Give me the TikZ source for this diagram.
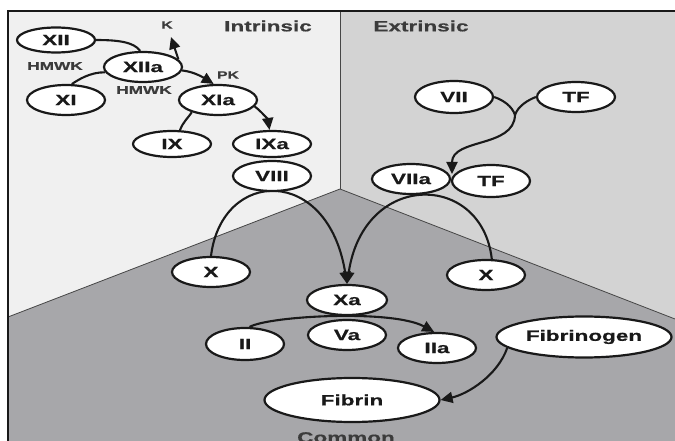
\documentclass[tikz,border=0pt]{standalone}
\usepackage{fontspec}
\setmainfont{Liberation Sans}[FakeStretch=1.5,BoldFeatures={FakeBold=0.6}]
\usetikzlibrary{arrows.meta,shapes.geometric}
\definecolor{wallin}{RGB}{240,240,240}
\definecolor{wallex}{RGB}{211,211,211}
\definecolor{floorc}{RGB}{167,167,170}
\definecolor{ink}{RGB}{25,25,25}
\definecolor{edgeline}{RGB}{70,70,70}
\pgfdeclarelayer{bg}
\pgfdeclarelayer{edges}
\pgfsetlayers{bg,edges,main}
\begin{document}
\begin{tikzpicture}[x=1pt,y=-1pt,
  factor/.style={ellipse,draw=ink,fill=white,line width=2.2pt,inner sep=0pt,
    minimum width=78pt,minimum height=30pt,
    font=\bfseries\fontsize{15}{15}\selectfont,text=ink},
  big/.style={factor,minimum width=175pt,minimum height=42pt},
  tag/.style={font=\bfseries\fontsize{11.5}{12}\selectfont,text=ink!85,inner sep=0pt},
  tiny/.style={tag,font=\bfseries\fontsize{10.5}{11}\selectfont},
  wall/.style={font=\bfseries\fontsize{15}{15}\selectfont,text=ink!85,inner sep=0pt},
  link/.style={draw=ink,line width=2.1pt},
  arr/.style={link,-{Triangle[length=12pt,width=11pt]}},
]
\useasboundingbox (0,0) rectangle (675,441);

% walls and floor of the three pathways
\begin{pgfonlayer}{bg}
  \fill[white] (0,0) rectangle (675,441);
  \fill[wallin] (8,11) rectangle (340,441);
  \fill[wallex] (340,11) rectangle (675,441);
  \fill[floorc] (8,317) -- (340,189) -- (675,319) -- (675,441) -- (8,441) -- cycle;
  \draw[edgeline,line width=0.8pt] (340,11) -- (340,189);
  \draw[edgeline,line width=0.8pt] (8,317) -- (340,189) -- (675,319);
  \draw[ink,line width=1.5pt] (8,441) -- (8,11) -- (675,11);
\end{pgfonlayer}

% factors
\node[factor,minimum height=25pt] (XII) at (56,40) {XII};
\node[factor] (XIIa) at (143,67) {XIIa};
\node[factor] (XI) at (66,100) {XI};
\node[factor] (XIa) at (218,100) {XIa};
\node[factor,minimum height=26pt] (IX) at (172,144) {IX};
\node[factor,minimum height=26pt] (IXa) at (272,144) {IXa};
\node[factor] (VIII) at (272,176) {VIII};
\node[factor] (Xl) at (211,272) {X};
\node[factor,minimum height=32pt] (VII) at (454,97) {VII};
\node[factor] (TFa) at (576,97) {TF};
\node[factor] (VIIa) at (411,179) {VIIa};
\node[factor,minimum height=32pt] (TFb) at (491,181) {TF};
\node[factor] (Xr) at (486,275) {X};
\node[factor,minimum width=80pt] (Xa) at (347,300) {Xa};
\node[factor,minimum height=32pt] (II) at (245,344) {II};
\node[factor] (Va) at (347,335) {Va};
\node[factor] (IIa) at (437,348) {IIa};
\node[big,minimum height=41pt] (Fbg) at (584,337) {Fibrinogen};
\node[big,minimum height=44pt] (Fb) at (352,400) {Fibrin};

% cofactor labels and pathway names
\node[tag] (hm1) at (55,66) {HMWK};
\node[tag] (hm2) at (144,90) {HMWK};
\node[tiny] (K) at (167,25) {K};
\node[tiny] (PK) at (228,75) {PK};
\node[wall] (intr) at (268,26) {Intrinsic};
\node[wall] (extr) at (421,26) {Extrinsic};
\node[wall,anchor=north] (comm) at (346,432) {Common};

\coordinate (ktip) at (171,37);
\coordinate (vj) at (515,115);
\coordinate (vtip) at (452,174);

% reactions
\begin{pgfonlayer}{edges}
  \draw[link] (XII.east) .. controls (118,40) and (134,42) .. (XIIa.100);
  \draw[link] (XIIa.188) .. controls (90,72) and (78,80) .. (XI.70);
  \draw[arr] (XIIa.12) -- (ktip);
  \draw[arr] (XIIa.-5) .. controls (195,72) and (204,78) .. (XIa.105);
  \draw[link] (XIa.205) .. controls (188,118) and (183,122) .. (IX.60);
  \draw[arr] (XIa.-10) .. controls (262,112) and (268,120) .. (IXa.100);
  \draw[arr] (Xl.north) .. controls (222,168) and (328,165) .. (Xa.north);
  \draw[arr] (Xr.70) .. controls (482,172) and (364,170) .. (Xa.north);
  \draw[link] (VII.east) .. controls (503,100) and (512,106) .. (vj);
  \draw[link] (TFa.west) .. controls (528,100) and (518,106) .. (vj);
  \draw[arr] (vj) .. controls (514,148) and (452,138) .. (vtip);
  \draw[arr] (II.75) .. controls (268,316) and (392,309) .. (IIa.100);
  \draw[arr] (Fbg.188) .. controls (498,375) and (468,394) .. (Fb.east);
\end{pgfonlayer}
\end{tikzpicture}
\end{document}
